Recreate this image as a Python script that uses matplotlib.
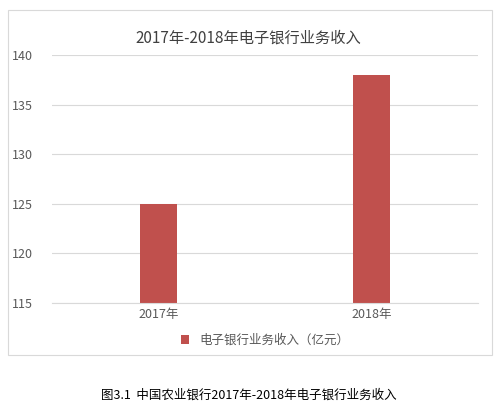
import matplotlib.pyplot as plt
from matplotlib.patches import Rectangle

plt.rcParams['font.family'] = ['Noto Sans CJK SC', 'DejaVu Sans']

years = ["2017年", "2018年"]
income = [125, 138]
series_name = "电子银行业务收入（亿元）"
title = "2017年-2018年电子银行业务收入"
caption = "图3.1  中国农业银行2017年-2018年电子银行业务收入"

fig = plt.figure(figsize=(4.97, 4.13), dpi=100)
fig.patches.append(Rectangle((8/497, 1-355/413), 484/497, 345/413, transform=fig.transFigure,
                             fill=False, edgecolor="#d9d9d9", linewidth=0.8))

ax = fig.add_axes([52/497, 1-303/413, 426/497, 248/413])
ax.bar(range(len(years)), income, width=0.17, color="#c0504d", label=series_name)
ax.set_xlim(-0.5, 1.5)
ax.set_ylim(115, 140)
ax.set_yticks(range(115, 141, 5))
ax.set_xticks(range(len(years)))
ax.set_xticklabels(years)
ax.grid(axis="y", color="#d9d9d9", linewidth=0.8)
ax.set_axisbelow(True)
for s in ["top", "right", "left"]:
    ax.spines[s].set_visible(False)
ax.spines["bottom"].set_color("#d9d9d9")
ax.tick_params(length=0, labelsize=9, colors="#595959")
ax.tick_params(axis="y", pad=14)

fig.text(0.5, 1-38/413, title, ha="center", va="center", fontsize=11, color="#404040")
ax.legend(loc="upper center", bbox_to_anchor=(0.5, -0.08), frameon=False, fontsize=9,
          handlelength=0.7, handleheight=0.7, labelcolor="#595959")
fig.text(0.5, 1-395/413, caption, ha="center", va="center", fontsize=9, color="#000000")

fig.savefig("out.png", dpi=100)
